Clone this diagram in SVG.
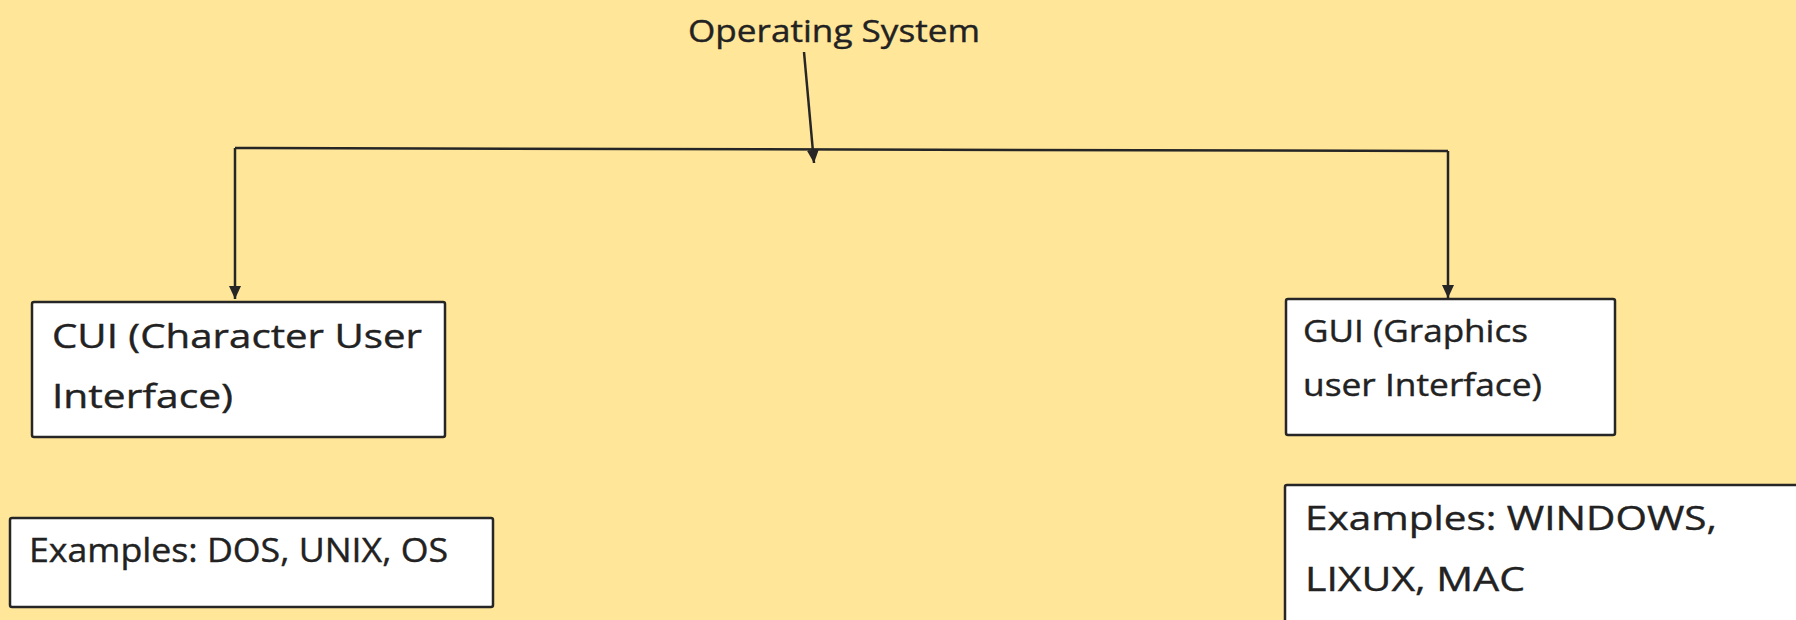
<svg xmlns="http://www.w3.org/2000/svg" width="1796" height="620" viewBox="0 0 1796 620">
  <style>
    .box { fill: #ffffff; stroke: #262626; stroke-width: 2.5; }
    .lbl { font-family: "Open Sans", "Noto Sans", sans-serif; fill: #222222; stroke: #222222; stroke-width: 0.4; }
    .conn { fill: none; stroke: #262626; stroke-width: 2.5; }
  </style>
  <defs>
    <marker id="arr" markerUnits="userSpaceOnUse" markerWidth="14" markerHeight="14" viewBox="0 0 14 14" refX="13" refY="7" orient="auto">
      <path d="M0,1 L13,7 L0,13 Z" fill="#262626"/>
    </marker>
  </defs>
  <rect x="0" y="0" width="1796" height="620" fill="#ffe699"/>

  <g id="connectors">
    <path class="conn" d="M235,148 L1448,151"/>
    <path class="conn" d="M804,52 L814,163" marker-end="url(#arr)"/>
    <path class="conn" d="M235,148 L235,299" marker-end="url(#arr)"/>
    <path class="conn" d="M1448,151 L1448,298" marker-end="url(#arr)"/>
  </g>

  <g id="os">
    <text class="lbl" x="688" y="42" font-size="31" textLength="292" lengthAdjust="spacingAndGlyphs">Operating System</text>
  </g>

  <g id="cui">
    <rect class="box" x="32" y="302" width="413" height="135" rx="2"/>
    <text class="lbl" x="52" y="348" font-size="32" textLength="370" lengthAdjust="spacingAndGlyphs">CUI (Character User</text>
    <text class="lbl" x="52" y="408" font-size="32" textLength="181" lengthAdjust="spacingAndGlyphs">Interface)</text>
  </g>

  <g id="gui">
    <rect class="box" x="1286" y="299" width="329" height="136" rx="2"/>
    <text class="lbl" x="1303" y="342" font-size="31" textLength="225" lengthAdjust="spacingAndGlyphs">GUI (Graphics</text>
    <text class="lbl" x="1303" y="396" font-size="31" textLength="239" lengthAdjust="spacingAndGlyphs">user Interface)</text>
  </g>

  <g id="cui-examples">
    <rect class="box" x="10" y="518" width="483" height="89" rx="2"/>
    <text class="lbl" x="29" y="562" font-size="33" textLength="419" lengthAdjust="spacingAndGlyphs">Examples: DOS, UNIX, OS</text>
  </g>

  <g id="gui-examples">
    <rect class="box" x="1285" y="485" width="530" height="160" rx="2"/>
    <text class="lbl" x="1305" y="530" font-size="33" textLength="412" lengthAdjust="spacingAndGlyphs">Examples: WINDOWS,</text>
    <text class="lbl" x="1305" y="591" font-size="33" textLength="220" lengthAdjust="spacingAndGlyphs">LIXUX, MAC</text>
  </g>
</svg>
